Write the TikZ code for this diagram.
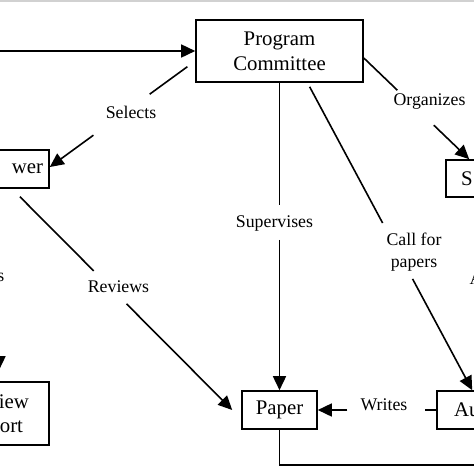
\documentclass[tikz,border=0pt]{standalone}
\usepackage{fontspec}
\setmainfont{Liberation Serif}
\usetikzlibrary{arrows.meta,calc}
\newcommand\boxfont{\fontsize{20.8}{25}\selectfont}
\newcommand\labfont{\fontsize{17.8}{22}\selectfont}
\tikzset{
  conn/.style={line width=1.6pt, draw=black},
  arr/.style={conn, -{Triangle[length=14pt,width=13pt]}},
  box/.style={draw, line width=1.6pt, rectangle, font=\boxfont, inner sep=0pt},
  lab/.style={font=\labfont, inner sep=0pt},
}
\begin{document}
\begin{tikzpicture}[x=1pt,y=-1pt]
\useasboundingbox (0,0) rectangle (474,474);
\clip (0,0) rectangle (474,474);
\fill[black!18] (0,0) rectangle (474,2.3);

% boxes
\node[box, minimum width=167pt, minimum height=62pt, align=center] (pc) at (279.5,51) {Program\\Committee};
\node[box, minimum width=92pt, minimum height=38pt, text width=80pt, align=right] (rev) at (3,169) {wer};
\node[box, minimum width=100pt, minimum height=37pt, text width=70pt, align=left] (ses) at (496,178.5) {S};
\node[box, minimum width=100pt, minimum height=38pt, text width=66pt, align=left] (aut) at (487,410) {Au};
\node[box, minimum width=75pt, minimum height=38pt] (paper) at (279.5,410) {Paper};
\node[box, minimum width=100pt, minimum height=63pt, text width=60pt, align=right, font=\fontsize{20.8}{24}\selectfont] (rr) at (-1,413.5) {iew\\ort\rule{6pt}{0pt}};

% labels
\node[lab] (lsel) at (131,112) {Selects};
\node[lab] (lorg) at (429.5,102) {Organizes};
\node[lab] (lsup) at (274.5,223) {Supervises};
\node[lab, align=center] (lcall) at (414,252) {Call for\\papers};
\node[lab] (lrevs) at (118.5,287) {Reviews};
\node[lab] (lwri) at (384,405) {Writes};
\node[lab, anchor=east] (lrr) at (4.5,277) {s};
\node[lab, anchor=base west] (la) at (469.5,284) {A};

% incoming arrow
\coordinate (in) at (-10,51);
\draw[arr] (in) -- (pc.west);

% Selects
\path ([yshift=-10pt]pc.west) -- ([yshift=2pt]rev.east)
  coordinate[pos=.054] (s1) coordinate[pos=.313] (s2)
  coordinate[pos=.70] (s3) coordinate[pos=1] (s4);
\draw[conn] (s1) -- (s2);
\draw[arr] (s3) -- (s4);

% Organizes
\path ([yshift=-7pt]pc.east) -- ([xshift=24pt]ses.north west)
  coordinate[pos=0] (o1) coordinate[pos=.318] (o2)
  coordinate[pos=.664] (o3) coordinate[pos=1] (o4);
\draw[conn] (o1) -- (o2);
\draw[arr] (o3) -- (o4);

% Supervises
\path (pc.south) -- (paper.north)
  coordinate[pos=0] (u1) coordinate[pos=.398] (u2)
  coordinate[pos=.511] (u3) coordinate[pos=1] (u4);
\draw[conn] (u1) -- (u2);
\draw[arr] (u3) -- (u4);

% Call for papers
\path ([xshift=28pt]pc.south) -- ([xshift=36pt]aut.north west)
  coordinate[pos=.013] (c1) coordinate[pos=.456] (c2)
  coordinate[pos=.638] (c3) coordinate[pos=1] (c4);
\draw[conn] (c1) -- (c2);
\draw[arr] (c3) -- (c4);

% Reviews
\path ([xshift=9pt]rev.south) -- ([xshift=-9pt]paper.west)
  coordinate[pos=.036] (r1) coordinate[pos=.371] (r2)
  coordinate[pos=.520] (r3) coordinate[pos=1] (r4);
\draw[conn] (r1) -- (r2);
\draw[arr] (r3) -- (r4);

% Writes
\path (aut.west) -- (paper.east)
  coordinate[pos=0] (w1) coordinate[pos=.092] (w2)
  coordinate[pos=.75] (w3) coordinate[pos=1] (w4);
\draw[conn] (w1) -- (w2);
\draw[arr] (w3) -- (w4);

% Reviewer -> Review Report
\draw[arr] ([xshift=-4pt]rev.south) -- ([yshift=11pt]rr.north);

% Paper bottom line
\coordinate (bend) at (480,465);
\draw[conn] (paper.south) |- (bend);
\end{tikzpicture}
\end{document}
